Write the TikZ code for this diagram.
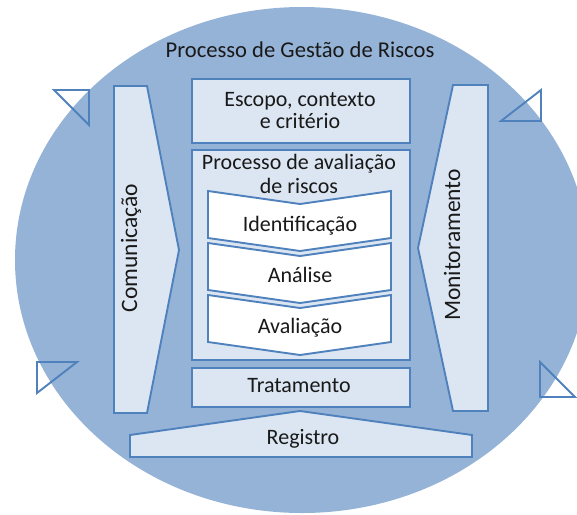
\documentclass[tikz,border=0pt]{standalone}
\usepackage{fontspec}
\setmainfont{Carlito}
\usetikzlibrary{calc,positioning}
\definecolor{riskfill}{HTML}{95B3D7}
\definecolor{boxfill}{HTML}{DCE6F2}
\definecolor{boxline}{HTML}{4F81BD}
\tikzset{
    panel/.style={
    rectangle,draw=boxline,fill=boxfill,line width=1.9pt,inner sep=0pt
    },
    sidearrow/.style={
    draw=boxline,fill=boxfill,line width=1.9pt
    },
    chevron/.style={
    draw=boxline,fill=white,line width=1.9pt
    },
    marker/.style={
    draw=boxline,line width=1.9pt
    },
    txt/.style={
    font=\fontsize{22}{23}\selectfont,anchor=base,inner sep=0pt,align=center,text=black!90
    },
    vtxt/.style={
    font=\fontsize{23.5}{25}\selectfont,anchor=base,inner sep=0pt,rotate=90,text=black!90
    },
}

\begin{document}
\begin{tikzpicture}[x=1pt, y=-1pt]
   \useasboundingbox (0,0) rectangle (577,514);
   % outer disc, cut at the right border
   \begin{scope}
     \clip (0,0) rectangle (577,514);
     \fill[riskfill] (302,260) ellipse [x radius=287pt, y radius=253pt];
   \end{scope}
   % corner markers
   \draw[marker] (54,90) -- (89,90) -- (89,125) -- cycle;
   \draw[marker] (501,121) -- (541,121) -- (541,90) -- cycle;
   \draw[marker] (37,362) -- (77,362) -- (37,393) -- cycle;
   \draw[marker] (540,362) -- (540,397) -- (575,397) -- cycle;
   % side arrows and bottom bar
   \draw[sidearrow] (114,86) -- (147,86) -- (179,250) -- (147,413) -- (114,413) -- cycle;
   \draw[sidearrow] (453,85) -- (488,85) -- (488,411) -- (453,411) -- (418,248) -- cycle;
   \draw[sidearrow] (130,457) -- (130,435) -- (300,411) -- (472,435) -- (472,457) -- cycle;
   % boxes
   \node[panel, minimum width=218pt, minimum height=64pt] (scope) at (301,111) {};
   \node[panel, minimum width=218pt, minimum height=210pt] (assess) at (301,255) {};
   \node[panel, minimum width=218pt, minimum height=39pt] (treat) at (301,387.5) {};
   % chevrons
   \foreach \i in {0,1,2} {
     \draw[chevron] (208,191+52*\i) -- (300,204+52*\i) -- (391,191+52*\i)
       -- (391,238+52*\i) -- (300,251+52*\i) -- (208,238+52*\i) -- cycle;
   }
   % texts (base = last line)
   \node[txt, font=\fontsize{22.6}{23}\selectfont] (title) at (300,57) {Processo de Gestão de Riscos};
   \node[txt, font=\fontsize{22}{22}\selectfont] (scopetxt) at (300,128) {Escopo, contexto\\e critério};
   \node[txt, font=\fontsize{22}{24}\selectfont] (assesstxt) at (299,193) {Processo de avaliação\\de riscos};
   \node[txt] (ident) at (300,231) {Identificação};
   \node[txt] (anal) at (300,282) {Análise};
   \node[txt] (evalu) at (300,333) {Avaliação};
   \node[txt] (treattxt) at (299,392) {Tratamento};
   \node[txt] (record) at (303,444) {Registro};
   \node[vtxt] (comm) at (137,248) {Comunicação};
   \node[vtxt] (monit) at (460,245) {Monitoramento};
\end{tikzpicture}
\end{document}
